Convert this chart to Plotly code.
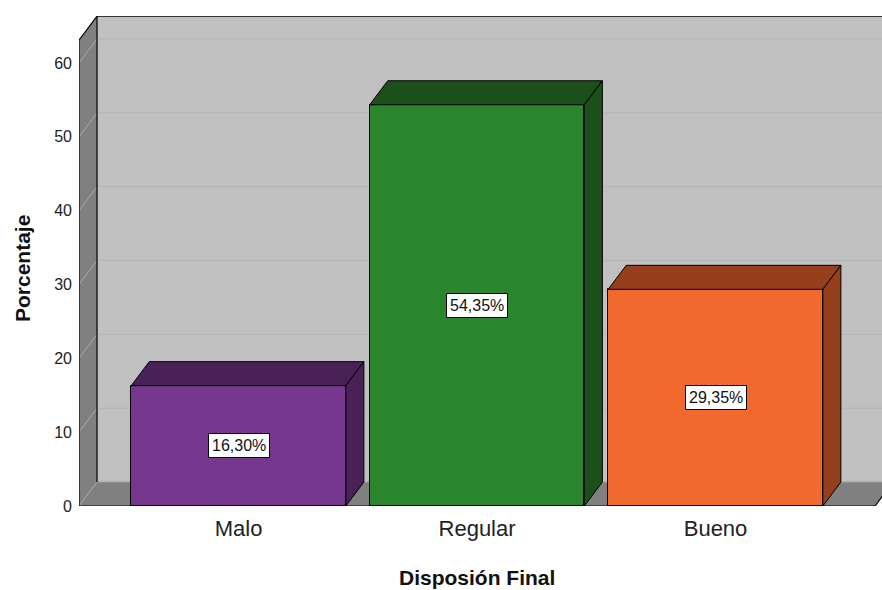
import plotly.graph_objects as go

# Data
categories = ["Malo", "Regular", "Bueno"]
percentages = [16.30, 54.35, 29.35]
y_ticks = [0, 10, 20, 30, 40, 50, 60]

# Styling
front_colors = ["#77378E", "#29862D", "#F2692D"]
shade_colors = ["#4A2157", "#1B501A", "#963F1C"]
FONT = "Liberation Sans, Arial, sans-serif"

# 3D box geometry (data units)
BAR_W = 0.9
DX = 0.0755          # depth offset along x (category units)
DY = 3.25            # depth offset along y (percent units)
X_FRONT_LEFT = -0.669
X_FRONT_RIGHT = 2.669
X_MAX = 2.698
Y_TOP_FRONT = 63.1
Y_MAX = 66.37

fig = go.Figure()

fig.add_trace(go.Bar(
    x=list(range(len(categories))),
    y=percentages,
    width=BAR_W,
    marker=dict(color=front_colors, line=dict(color="#000000", width=1)),
    hoverinfo="skip",
    showlegend=False,
))

shapes = []
xb = X_FRONT_LEFT + DX

# back wall
shapes.append(dict(type="rect", xref="x", yref="y", x0=xb, x1=X_MAX + 0.1,
                   y0=DY, y1=Y_TOP_FRONT + DY, fillcolor="#C0C0C0",
                   line=dict(width=0), layer="below"))
# left wall
shapes.append(dict(type="path", xref="x", yref="y",
                   path=f"M {X_FRONT_LEFT},0 L {X_FRONT_LEFT},{Y_TOP_FRONT} "
                        f"L {xb},{Y_TOP_FRONT + DY} L {xb},{DY} Z",
                   fillcolor="#808080", line=dict(width=0), layer="below"))
# floor
shapes.append(dict(type="path", xref="x", yref="y",
                   path=f"M {X_FRONT_LEFT},0 L {X_FRONT_RIGHT},0 "
                        f"L {X_FRONT_RIGHT + DX},{DY} L {xb},{DY} Z",
                   fillcolor="#808080", line=dict(width=0), layer="below"))

# grid lines on the walls
for t in y_ticks:
    shapes.append(dict(type="line", xref="x", yref="y", x0=X_FRONT_LEFT, y0=t,
                       x1=xb, y1=t + DY, line=dict(color="#A8A8A8", width=1),
                       layer="below"))
    shapes.append(dict(type="line", xref="x", yref="y", x0=xb, y0=t + DY,
                       x1=X_MAX + 0.1, y1=t + DY,
                       line=dict(color="#B4B4B4" if t else "#A0A0A0", width=1),
                       layer="below"))

# wall outlines
edge = dict(color="#000000", width=1.2)
shapes.append(dict(type="line", xref="x", yref="y", x0=X_FRONT_LEFT, y0=0,
                   x1=X_FRONT_LEFT, y1=Y_TOP_FRONT, line=edge, layer="below"))
shapes.append(dict(type="line", xref="x", yref="y", x0=X_FRONT_LEFT, y0=Y_TOP_FRONT,
                   x1=xb, y1=Y_TOP_FRONT + DY, line=edge, layer="below"))
shapes.append(dict(type="line", xref="x", yref="y", x0=xb, y0=DY,
                   x1=xb, y1=Y_TOP_FRONT + DY, line=edge, layer="below"))
shapes.append(dict(type="line", xref="x", yref="y", x0=xb, y0=Y_TOP_FRONT + DY,
                   x1=X_MAX + 0.1, y1=Y_TOP_FRONT + DY, line=edge, layer="below"))
shapes.append(dict(type="line", xref="x", yref="y", x0=X_FRONT_LEFT, y0=0,
                   x1=X_FRONT_RIGHT, y1=0, line=edge, layer="below"))
shapes.append(dict(type="line", xref="x", yref="y", x0=X_FRONT_RIGHT, y0=0,
                   x1=X_FRONT_RIGHT + DX, y1=DY, line=edge, layer="below"))

# top and side faces of each bar
for i, (v, c) in enumerate(zip(percentages, shade_colors)):
    left, right = i - BAR_W / 2, i + BAR_W / 2
    shapes.append(dict(type="path", xref="x", yref="y",
                       path=f"M {left},{v} L {left + DX},{v + DY} "
                            f"L {right + DX},{v + DY} L {right},{v} Z",
                       fillcolor=c, line=dict(color="#000000", width=1),
                       layer="above"))
    shapes.append(dict(type="path", xref="x", yref="y",
                       path=f"M {right},0 L {right},{v} L {right + DX},{v + DY} "
                            f"L {right + DX},{DY} Z",
                       fillcolor=c, line=dict(color="#000000", width=1),
                       layer="above"))

# value labels
annotations = []
for i, v in enumerate(percentages):
    annotations.append(dict(
        x=i, y=v / 2, xref="x", yref="y",
        text=f"{v:.2f}%".replace(".", ","), showarrow=False,
        font=dict(family=FONT, size=16, color="#111111"),
        bgcolor="#FFFFFF", bordercolor="#000000", borderwidth=1, borderpad=3,
    ))

# axis titles
annotations.append(dict(text="<b>Disposión Final</b>", xref="paper", yref="paper",
                        x=0.4956, y=-0.1449, xanchor="center", yanchor="middle",
                        showarrow=False,
                        font=dict(family=FONT, size=21, color="#111111")))
annotations.append(dict(text="<b>Porcentaje</b>", xref="paper", yref="paper",
                        x=-0.0697, y=0.4837, xanchor="center", yanchor="middle",
                        showarrow=False, textangle=-90,
                        font=dict(family=FONT, size=21, color="#111111")))

fig.update_layout(
    width=882, height=590,
    margin=dict(l=79, r=0, t=16, b=84),
    paper_bgcolor="#FFFFFF", plot_bgcolor="#FFFFFF",
    shapes=shapes, annotations=annotations,
    bargap=0, showlegend=False,
    xaxis=dict(range=[X_FRONT_LEFT, X_MAX], tickvals=list(range(len(categories))),
               ticktext=categories, showgrid=False, zeroline=False, showline=False,
               ticks="", ticklabelstandoff=7,
               tickfont=dict(family=FONT, size=22, color="#222222")),
    yaxis=dict(range=[0, Y_MAX], tickvals=y_ticks, showgrid=False, zeroline=False,
               showline=False, ticks="", ticklabelstandoff=6,
               tickfont=dict(family=FONT, size=16, color="#222222")),
)

fig.write_html("out.html")
